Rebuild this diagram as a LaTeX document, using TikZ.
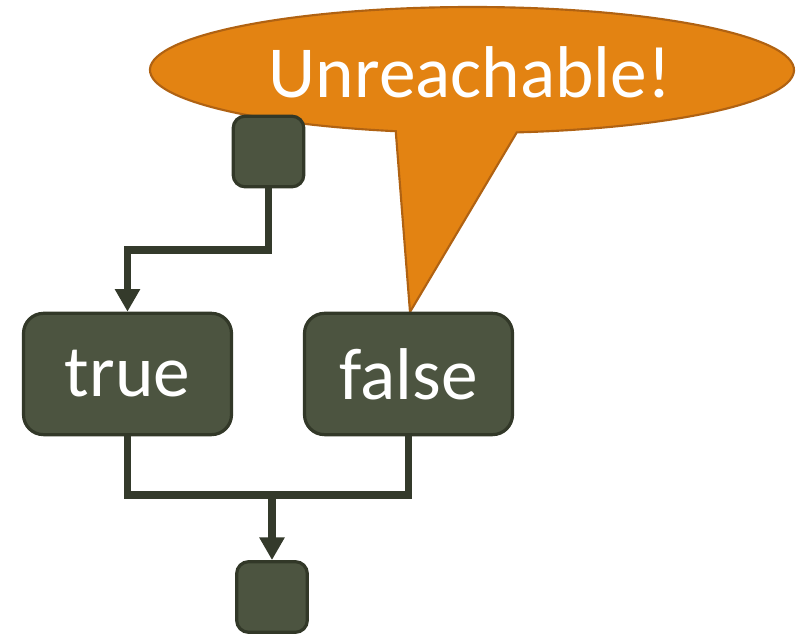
\documentclass[tikz,border=0pt]{standalone}
\usepackage{fontspec}
\setmainfont{Carlito}
\usetikzlibrary{arrows.meta}
\definecolor{boxfill}{RGB}{76,84,64}
\definecolor{boxline}{RGB}{50,56,40}
\definecolor{wire}{RGB}{52,58,43}
\definecolor{calloutfill}{RGB}{227,131,18}
\definecolor{calloutline}{RGB}{176,98,18}
\begin{document}
\begin{tikzpicture}[x=0.75pt,y=-0.75pt,
  block/.style={draw=boxline,fill=boxfill,line width=2.4pt,rounded corners=15pt,
    minimum width=156pt,minimum height=91pt,inner sep=0pt,text=white,
    font=\fontsize{55}{66}\selectfont},
  joint/.style={draw=boxline,fill=boxfill,line width=2.4pt,rounded corners=9pt,
    minimum width=53pt,minimum height=53pt,inner sep=0pt},
  wireline/.style={draw=wire,line width=5.4pt},
  flow/.style={wireline,-{Triangle[width=18pt,length=17pt]}}]
\useasboundingbox (0,0) rectangle (800,634);

% speech bubble: ellipse with a pointed tail
\draw[fill=calloutfill,draw=calloutline,line width=1.6pt,line join=miter]
  (516.8,132.4) arc[start angle=82,end angle=-256.3,x radius=322,y radius=63]
  -- (410,312) -- cycle;
\node[text=white,font=\fontsize{55}{66}\selectfont] (msg) at (470,72) {Unreachable!};

% junction points of the wires
\coordinate (split) at (0,250);
\coordinate (merge) at (0,495);

\node[joint] (entry) at (268.5,151.5) {};
\node[block] (t) at (127.5,374) {true};
\node[block] (f) at (408.5,374) {false};
\node[joint] (exit) at (272,597) {};

\draw[flow] (entry.south) -- (entry.south |- split) -| (t.north);
\draw[wireline] (t.south) |- (f.south |- merge) -- (f.south);
\draw[flow] (exit.north |- merge) -- (exit.north);
\end{tikzpicture}
\end{document}
